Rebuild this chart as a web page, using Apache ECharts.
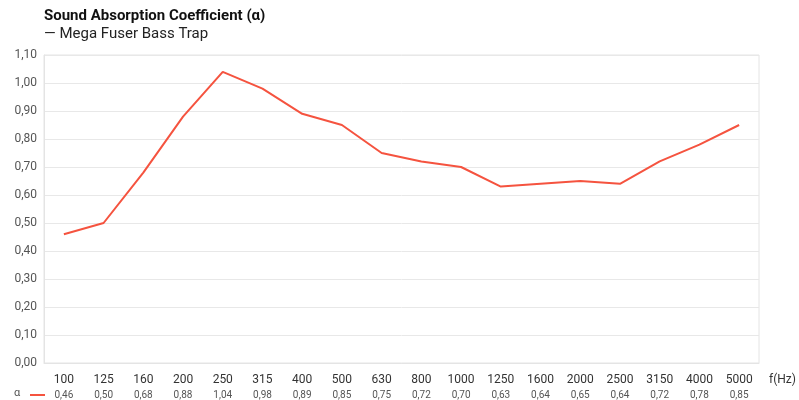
<!DOCTYPE html>
<html lang="en">
<head>
    <meta charset="UTF-8">
    <title>Sound Absorption Coefficient</title>
    <script src="https://cdn.jsdelivr.net/npm/echarts@6/dist/echarts.min.js"></script>
    <style>
        html, body { margin: 0; padding: 0; background: #fff; }
        #chart { width: 799px; height: 400px; }
    </style>
</head>
<body>
<div id="chart"></div>
<script>
    // frequencies (Hz) and absorption values
    var freqs = ['100', '125', '160', '200', '250', '315', '400', '500', '630', '800',
                 '1000', '1250', '1600', '2000', '2500', '3150', '4000', '5000'];
    var alpha = [0.46, 0.50, 0.68, 0.88, 1.04, 0.98, 0.89, 0.85, 0.75, 0.72,
                 0.70, 0.63, 0.64, 0.65, 0.64, 0.72, 0.78, 0.85];

    function comma(v) {
        return v.toFixed(2).replace('.', ',');
    }

    var lineColor = '#f5533f';
    var font = 'Roboto, "DejaVu Sans", sans-serif';

    var chart = echarts.init(document.getElementById('chart'));
    chart.setOption({
        animation: false,
        textStyle: { fontFamily: font },
        title: {
            text: 'Sound Absorption Coefficient (α)',
            subtext: '— Mega Fuser Bass Trap',
            left: 39,
            top: 4,
            itemGap: 3,
            textStyle: { fontSize: 15, fontWeight: 'bold', color: '#111', fontFamily: font },
            subtextStyle: { fontSize: 15, color: '#222', fontFamily: font }
        },
        grid: {
            left: 44, right: 40, top: 55, bottom: 37,
            show: true, borderColor: '#e4e4e4', borderWidth: 1
        },
        xAxis: [
            {
                type: 'category',
                data: freqs,
                boundaryGap: true,
                name: 'f(Hz)',
                nameLocation: 'end',
                nameGap: 10,
                nameTextStyle: { fontSize: 12, color: '#333', verticalAlign: 'top', padding: [11, 0, 0, 0] },
                axisLine: { lineStyle: { color: '#e4e4e4' } },
                axisTick: { inside: true, length: 3, lineStyle: { color: '#d8d8d8' } },
                axisLabel: { fontSize: 12, color: '#333', margin: 11 }
            },
            {
                type: 'category',
                data: freqs,
                position: 'bottom',
                offset: 27,
                axisLine: { show: false },
                axisTick: { show: false },
                axisLabel: {
                    fontSize: 10, color: '#555', margin: 0,
                    formatter: function (val, idx) { return comma(alpha[idx]); }
                }
            }
        ],
        yAxis: {
            type: 'value',
            min: 0,
            max: 1.1,
            interval: 0.1,
            axisLine: { show: true, lineStyle: { color: '#e4e4e4' } },
            axisTick: { show: false },
            axisLabel: {
                fontSize: 12, color: '#555', margin: 7,
                formatter: function (v) { return comma(v); }
            },
            splitLine: { lineStyle: { color: '#e8e8e8' } }
        },
        graphic: [
            { type: 'text', left: 14, top: 388, style: { text: 'α', fontSize: 11, fill: '#555', fontFamily: font } },
            { type: 'line', shape: { x1: 30, y1: 395, x2: 45, y2: 395 }, style: { stroke: lineColor, lineWidth: 2 } }
        ],
        series: [{
            name: 'α',
            type: 'line',
            data: alpha,
            symbol: 'none',
            lineStyle: { color: lineColor, width: 2 },
            itemStyle: { color: lineColor }
        }]
    });
</script>
</body>
</html>
